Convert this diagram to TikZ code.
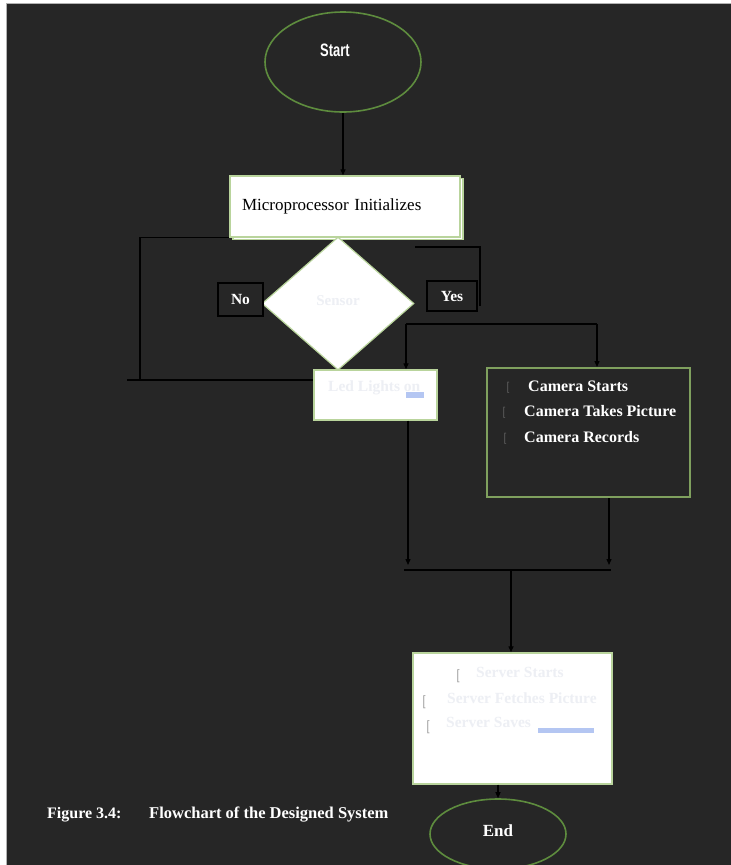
\documentclass[tikz,border=0pt]{standalone}
\usepackage{fontspec}
\setmainfont{Liberation Serif}
\newfontfamily\narrowsans[FakeStretch=0.72]{Liberation Sans}
\usetikzlibrary{shapes.geometric,arrows.meta}
\definecolor{bgdark}{HTML}{262626}
\definecolor{ovalgreen}{HTML}{5E8C3E}
\definecolor{boxedge}{HTML}{B9D49C}
\definecolor{camedge}{HTML}{7FA05E}
\definecolor{faint}{HTML}{EDEFF4}
\definecolor{paleblue}{HTML}{B4C6F2}
\definecolor{bulletgray}{HTML}{9A9A9A}
\tikzset{
  wline/.style={draw=black, line width=1.3pt},
  arr/.style={wline, -{Triangle[length=6pt,width=5pt]}},
  oval/.style={ellipse, draw=ovalgreen, line width=1.6pt, inner sep=0pt},
  whitebox/.style={rectangle, fill=white, draw=boxedge, line width=1.4pt, inner sep=0pt},
  lbl/.style={rectangle, fill=bgdark, draw=black, line width=1.2pt, text=white, inner sep=0pt,
    font=\fontsize{15.5}{18}\selectfont\bfseries},
  wtext/.style={text=white, inner sep=0pt, font=\fontsize{16}{19}\selectfont\bfseries},
  ftext/.style={text=faint, inner sep=0pt, anchor=west, font=\fontsize{15.5}{18}\selectfont\bfseries},
  bul/.style={text=bulletgray, inner sep=0pt, font=\sffamily\fontsize{13}{15}\selectfont},
}
\begin{document}
\begin{tikzpicture}[x=1pt,y=-1pt]
\useasboundingbox (0,0) rectangle (731,865);
\fill[white] (0,0) rectangle (731,865);
\fill[bgdark] (6,3) rectangle (731,865);
\draw[gray!60, line width=0.8pt] (6,865) -- (6,3) -- (731,3);

% Start
\node[oval, minimum width=156pt, minimum height=100pt] (start) at (343,62) {};
\node[text=white, inner sep=0pt, font=\narrowsans\bfseries\fontsize{18}{21}\selectfont] (starttxt) at (335,50) {Start};

% Microprocessor box (with shadow copy)
\node[whitebox, minimum width=230pt, minimum height=61pt] (microshadow) at (348,209) {};
\node[whitebox, minimum width=230pt, minimum height=61pt, text width=206pt, align=left,
  inner xsep=12pt, font=\fontsize{17}{20}\selectfont] (micro) at (345,206.5)
  {\raisebox{2pt}{Microprocessor Initializes}};

% Sensor diamond
\node[diamond, fill=white, draw=boxedge, line width=1.2pt, inner sep=0pt,
  minimum width=152pt, minimum height=133pt, text=faint,
  font=\fontsize{15}{18}\selectfont\bfseries] (sensor) at (338,303.5) {\raisebox{6pt}{Sensor}};

% No / Yes labels
\node[lbl, minimum width=45pt, minimum height=33pt] (no) at (240.5,299.5) {No};
\node[lbl, minimum width=50pt, minimum height=30pt] (yes) at (452,296) {Yes};

% Led box
\node[whitebox, minimum width=123pt, minimum height=50pt] (led) at (375.5,395) {};
\node[ftext] (ledtxt) at (328,388) {Led Lights on};
\fill[paleblue] (406,392) rectangle (424,398);

% Camera box
\node[rectangle, fill=bgdark, draw=camedge, line width=2pt, minimum width=203pt, minimum height=129pt] (cam) at (588.5,432.5) {};
\node[wtext, anchor=west] (cam1) at (528,386) {Camera Starts};
\node[wtext, anchor=west] (cam2) at (524,411) {Camera Takes Picture};
\node[wtext, anchor=west] (cam3) at (524,437) {Camera Records};
\node[text=black!60, inner sep=0pt, font=\sffamily\fontsize{11}{13}\selectfont] (cb1) at (508,388) {[};
\node[text=black!60, inner sep=0pt, font=\sffamily\fontsize{11}{13}\selectfont] (cb2) at (504,413) {[};
\node[text=black!60, inner sep=0pt, font=\sffamily\fontsize{11}{13}\selectfont] (cb3) at (505,439) {[};

% Server box
\node[whitebox, minimum width=199pt, minimum height=131pt] (server) at (512.5,718.5) {};
\node[ftext] (sv1) at (476,672) {Server Starts};
\node[ftext] (sv2) at (447,698) {Server Fetches Picture};
\node[ftext] (sv3) at (446,722) {Server Saves};
\node[bul] (sb1) at (458,676) {[};
\node[bul] (sb2) at (424,702) {[};
\node[bul] (sb3) at (428,727) {[};
\fill[paleblue] (538,728) rectangle (594,733);

% End
\node[oval, minimum width=136pt, minimum height=70pt] (endn) at (498,834) {};
\node[text=white, inner sep=0pt, font=\fontsize{17}{20}\selectfont\bfseries] (endtxt) at (498,831) {End};

% Caption
\node[text=white, inner sep=0pt, anchor=west, font=\fontsize{16}{19}\selectfont\bfseries] (figno) at (47,815) {Figure 3.4:};
\node[text=white, inner sep=0pt, anchor=west, font=\fontsize{16.5}{19}\selectfont\bfseries] (figcap) at (149,815) {Flowchart of the Designed System};

% Connector coordinates
\coordinate (nlc) at (140,380);
\coordinate (nle) at (127,380);
\coordinate (ry1) at (415,247);
\coordinate (ry2) at (480,306);
\coordinate (yb) at (406,324);
\coordinate (yr) at (597,324);
\coordinate (m1) at (408,565);
\coordinate (m2) at (609,565);
\coordinate (mh1) at (404,570);
\coordinate (mh2) at (611,570);
\coordinate (mc) at (511,570);

% Connectors
\draw[arr] (start.south) -- (start.south |- micro.north);
\draw[wline] (micro.south west) -| (nlc);
\draw[wline] (nle) -- (nle -| led.west);
\draw[wline] (ry1) -| (ry2);
\draw[wline] (yb) -- (yr);
\draw[arr] (yb) -- (yb |- led.north);
\draw[arr] (yr) -- (yr |- cam.north);
\draw[arr] (led.south -| m1) -- (m1);
\draw[arr] (cam.south -| m2) -- (m2);
\draw[wline] (mh1) -- (mh2);
\draw[arr] (mc) -- (mc |- server.north);
\draw[arr] (server.south -| endn.north) -- (endn.north);
\end{tikzpicture}
\end{document}
